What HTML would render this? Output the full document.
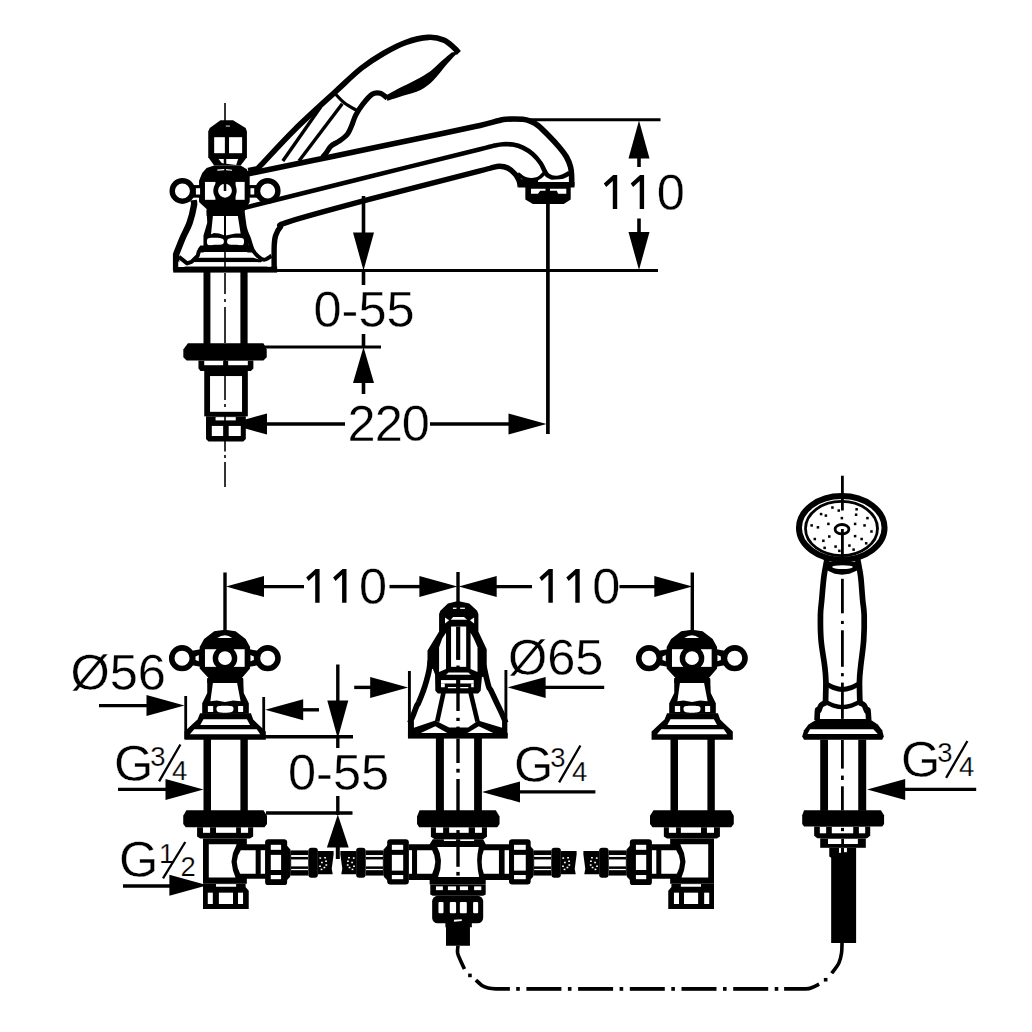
<!DOCTYPE html>
<html><head><meta charset="utf-8"><title>Drawing</title>
<style>
html,body{margin:0;padding:0;background:#fff;}
body{width:1032px;height:1032px;overflow:hidden;}
svg{display:block;}
text{font-family:"Liberation Sans",sans-serif;fill:#000;}
</style></head><body>
<svg width="1032" height="1032" viewBox="0 0 1032 1032">
<rect x="0" y="0" width="1032" height="1032" fill="#fff"/>
<path d="M247.6,174 C261.33,171.15 297.93,163.57 330,156.9 C362.07,150.23 415.00,139.25 440,134 C465.00,128.75 470.33,127.60 480,125.4 C489.67,123.20 493.67,121.83 498,120.8 C502.33,119.77 501.87,119.45 506,119.2 C510.13,118.95 518.63,118.92 522.8,119.3 C526.97,119.68 528.47,120.47 531,121.5 C533.53,122.53 535.00,123.08 538,125.5 C541.00,127.92 545.45,132.38 549,136 C552.55,139.62 556.38,143.70 559.3,147.2 C562.22,150.70 564.63,153.73 566.5,157 C568.37,160.27 569.65,163.63 570.5,166.8 C571.35,169.97 571.42,172.80 571.6,176 C571.78,179.20 571.60,184.33 571.6,186" fill="none" stroke="#000" stroke-width="5.6" stroke-linejoin="round" stroke-linecap="butt"/>
<path d="M243.8,208 C264.83,202.75 330.63,186.30 370,176.5 C409.37,166.70 459.17,154.38 480,149.2 C500.83,144.02 491.17,146.23 495,145.4 C498.83,144.57 500.03,144.33 503,144.2 C505.97,144.07 509.50,144.03 512.8,144.6 C516.10,145.17 519.45,146.00 522.8,147.6 C526.15,149.20 529.95,151.63 532.9,154.2 C535.85,156.77 538.58,160.28 540.5,163 C542.42,165.72 543.15,168.40 544.4,170.5 C545.65,172.60 546.13,174.33 548,175.6 C549.87,176.87 553.08,177.97 555.6,178.1 C558.12,178.23 560.80,177.25 563.1,176.4 C565.40,175.55 568.35,173.57 569.4,173" fill="none" stroke="#000" stroke-width="4.6" stroke-linejoin="round" stroke-linecap="butt"/>
<path d="M274.2,271 C274.20,266.83 273.97,251.88 274.2,246 C274.43,240.12 274.58,238.83 275.6,235.7 C276.62,232.57 278.15,229.52 280.3,227.2 C282.45,224.88 273.55,226.47 288.5,221.8 C303.45,217.13 338.08,207.68 370,199.2 C401.92,190.72 459.67,176.17 480,170.9 C500.33,165.63 488.75,168.38 492,167.6 C495.25,166.82 496.88,166.13 499.5,166.2 C502.12,166.27 505.07,166.65 507.7,168 C510.33,169.35 513.42,172.20 515.3,174.3 C517.18,176.40 518.17,178.48 519,180.6 C519.83,182.72 520.08,185.93 520.3,187" fill="none" stroke="#000" stroke-width="5.4" stroke-linejoin="round" stroke-linecap="butt"/>
<path d="M517.79,173.69 C518.63,174.32 520.94,176.48 522.83,177.47 C524.72,178.46 527.03,179.30 529.13,179.61 C531.23,179.93 533.54,179.82 535.43,179.36 C537.32,178.90 538.90,178.00 540.47,176.84 C542.04,175.69 544.14,173.17 544.87,172.43" fill="none" stroke="#000" stroke-width="3.6" stroke-linejoin="round" stroke-linecap="butt"/>
<path d="M519.05,181.88 L574.48,181.88 L574.48,187.55 L570.7,187.55 L570.7,199.52 L563.77,203.92 L532.91,203.92 L525.35,199.52 L525.35,187.55 L519.05,187.55 Z" fill="#000"/>
<path d="M531.02,188.81 L545.5,188.81 L545.5,190.7 L540.21,190.7 L537.95,193.85 L531.02,193.85 Z" fill="#fff"/>
<path d="M549.91,188.81 L566.29,188.81 L566.29,193.85 L558.1,193.85 L556.84,190.7 L549.91,190.7 Z" fill="#fff"/>
<rect x="519.3" y="179.11" width="18.9" height="3.02" fill="#000"/>
<path d="M538.2,180.62 L568.18,178.73 L568.18,181.88 L538.2,181.88 Z" fill="#fff"/>
<path d="M248.18,170.58 C249.60,170.30 254.53,169.83 256.69,168.88 C258.85,167.93 254.83,171.40 261.14,164.86 C267.45,158.32 282.13,141.91 294.57,129.65 C307.01,117.39 324.66,101.57 335.8,91.32 C346.94,81.07 353.44,74.49 361.43,68.14 C369.42,61.79 376.29,57.52 383.72,53.21 C391.15,48.90 398.58,44.93 406.01,42.29 C413.44,39.65 421.98,37.75 428.29,37.38 C434.61,37.01 439.63,38.35 443.9,40.06 C448.17,41.77 451.43,45.49 453.92,47.64 C456.41,49.79 458.01,52.09 458.83,52.98" fill="none" stroke="#000" stroke-width="5.6" stroke-linejoin="round" stroke-linecap="butt"/>
<path d="M458.66,51.49 C456.73,53.59 451.31,59.26 447.07,64.09 C442.83,68.92 437.63,76.17 433.22,80.47 C428.81,84.77 425.66,87.35 420.62,89.91 C415.58,92.47 408.54,94.00 402.98,95.83 C397.42,97.66 389.86,100.03 387.24,100.87 L386.61,95.08 C388.92,93.82 395.64,90.04 400.47,87.52 C405.30,85.00 410.54,82.73 415.58,79.96 C420.62,77.19 426.50,73.91 430.7,70.89 C434.90,67.87 437.29,64.89 440.78,61.82 C444.26,58.76 449.81,54.05 451.61,52.5 Z" fill="#000"/>
<path d="M387.24,98.1 C386.09,97.30 382.83,93.94 380.31,93.31 C377.79,92.68 375.06,92.47 372.12,94.32 C369.18,96.17 365.40,100.94 362.67,104.4 C359.94,107.87 357.68,111.34 355.75,115.11 C353.82,118.88 352.55,123.76 351.1,127 C349.65,130.24 349.00,132.24 347.07,134.55 C345.14,136.86 342.21,138.92 339.52,140.85 C336.83,142.78 333.15,144.14 330.95,146.14 C328.75,148.13 327.70,150.97 326.29,152.82 C324.88,154.67 323.14,156.50 322.51,157.23" fill="none" stroke="#000" stroke-width="5.2" stroke-linejoin="round" stroke-linecap="butt"/>
<path d="M334.48,92.98 C336.16,94.66 340.77,100.12 344.55,103.06 C348.33,106.00 355.05,109.36 357.15,110.62" fill="none" stroke="#000" stroke-width="3.2" stroke-linejoin="round" stroke-linecap="butt"/>
<path d="M342.29,103.69 L298.95,161.01" fill="none" stroke="#000" stroke-width="3.4" stroke-linejoin="round" stroke-linecap="butt"/>
<path d="M320.62,107.09 L282.83,161.01" fill="none" stroke="#000" stroke-width="3.4" stroke-linejoin="round" stroke-linecap="butt"/>
<line x1="225" y1="103" x2="225" y2="121" stroke="#000" stroke-width="1.6"/>
<path d="M220.47,120.19 L233.06,120.19 L245.66,128 L246.92,131.53 L246.92,157.35 L240.62,165.54 L214.17,165.54 L208.25,157.35 L208.25,131.53 L209.76,128 Z" fill="#000"/>
<rect x="214.17" y="137.2" width="10.7" height="16" fill="#fff"/>
<rect x="229.03" y="137.2" width="13.1" height="16" fill="#fff"/>
<path d="M218.58,158.99 L223.74,158.99 L223.74,163.4 L221.72,163.02 Z" fill="#fff"/>
<path d="M226.26,158.99 L238.1,158.99 L236.21,165.04 L226.26,163.78 Z" fill="#fff"/>
<rect x="225.76" y="125.61" width="4.28" height="0.88" fill="#fff"/>
<path d="M214.17,165.54 L240.62,165.54 L246.92,169.32 L249.69,176.88 L249.69,202.07 L246.92,207.11 L243.77,212.15 L243.14,215.9 L206.61,215.9 L206.61,208.97 L200.31,203.3 L199.05,202.07 L199.05,180.66 L202.2,173.1 L206.61,168.06 Z" fill="#000"/>
<path d="M217.32,169.57 L224.24,169.07 L224.24,170.33 L217.32,170.83 Z" fill="#fff"/>
<path d="M226.13,169.07 L232.05,169.83 L232.05,170.83 L226.13,170.33 Z" fill="#fff"/>
<rect x="204.97" y="181.92" width="10.46" height="17.89" fill="#fff"/>
<rect x="235.58" y="181.92" width="9.07" height="17.89" fill="#fff"/>
<circle cx="225" cy="190.74" r="9.3" fill="#fff" stroke="#000" stroke-width="4.8"/>
<rect x="223.74" y="183.18" width="2.52" height="7.81" fill="#000"/>
<circle cx="182.42" cy="190.99" r="10.2" fill="#fff" stroke="#000" stroke-width="5.4"/>
<circle cx="267.7" cy="190.99" r="10.2" fill="#fff" stroke="#000" stroke-width="5.4"/>
<rect x="193" y="185.07" width="7.31" height="12.59" fill="#000"/>
<rect x="195.9" y="188.22" width="4.16" height="6.3" fill="#fff"/>
<rect x="248.81" y="185.07" width="8.19" height="12.59" fill="#000"/>
<rect x="250.45" y="188.22" width="3.77" height="6.3" fill="#fff"/>
<path d="M250.07,201.44 L258.26,199.55 L258.26,201.07 L250.07,203.08 Z" fill="#fff"/>
<path d="M206.61,210.23 L243.14,210.23 L244.65,224.09 L248.81,236.69 L248.81,246.76 L203.46,246.76 L203.46,235.43 L207.24,222.83 Z" fill="#000"/>
<path d="M212.91,215.9 L223.99,215.9 L223.99,235.17 L219.21,233.41 L214.17,232.91 L211.02,234.17 Z" fill="#fff"/>
<path d="M226.01,215.9 L237.85,215.9 L240.62,233.54 L235.58,233.41 L230.54,234.42 L226.01,235.43 Z" fill="#fff"/>
<path d="M207.87,238.58 C209.13,237.38 212.91,237.63 215.43,237.69 C217.95,237.75 221.72,237.90 222.98,238.95 C224.24,240.00 224.24,243.00 222.98,243.99 C221.72,244.98 217.95,244.72 215.43,244.87 C212.91,245.02 209.13,245.92 207.87,244.87 C206.61,243.82 206.61,239.78 207.87,238.58 Z" fill="#fff"/>
<path d="M228.02,238.95 C229.28,237.90 233.06,237.75 235.58,237.69 C238.10,237.63 241.88,237.38 243.14,238.58 C244.40,239.78 244.40,243.82 243.14,244.87 C241.88,245.92 238.10,245.02 235.58,244.87 C233.06,244.72 229.28,244.98 228.02,243.99 C226.76,243.00 226.76,240.00 228.02,238.95 Z" fill="#fff"/>
<path d="M200.31,245.5 L251.33,245.5 L253.85,249.03 L253.85,252.43 L197.79,252.43 L197.79,249.03 Z" fill="#000"/>
<path d="M204.09,252.05 L246.92,252.05 L250.95,257.72 L200.06,257.72 Z" fill="#fff" stroke="#000" stroke-width="0"/>
<path d="M197.79,257.72 L253.22,257.72 L263.29,260.62 L260.78,262.13 L189.6,262.13 L187.08,263.14 Z" fill="#000"/>
<path d="M193,262.13 L257.63,262.13 L260.78,266.54 L191.49,266.54 Z" fill="#fff"/>
<path d="M193.38,200.18 C193.48,201.02 194.64,201.41 194.01,205.19 C193.38,208.97 191.49,217.37 189.6,222.83 C187.71,228.29 184.92,232.70 182.67,237.95 C180.42,243.20 177.21,251.59 176.12,254.32 L176.12,270.7" fill="none" stroke="#000" stroke-width="6.4" stroke-linejoin="round" stroke-linecap="butt"/>
<rect x="173.23" y="266.54" width="103.92" height="6.05" fill="#000"/>
<path d="M178.9,256.84 L187.08,263.39 L191.49,261.88 L197.79,255.58 L199.05,250.54" fill="none" stroke="#000" stroke-width="4" stroke-linejoin="round" stroke-linecap="butt"/>
<path d="M178.27,261.25 L185.19,266.92 L178.27,266.92 Z" fill="#fff"/>
<path d="M242.52,210.54 C242.94,213.48 243.99,223.56 245.04,228.18 C246.09,232.80 247.56,234.69 248.82,238.26 C250.08,241.83 251.13,246.65 252.6,249.59 C254.07,252.53 255.75,254.21 257.64,255.89 C259.53,257.57 261.62,259.67 263.93,259.67 C266.24,259.67 270.23,256.52 271.49,255.89" fill="none" stroke="#000" stroke-width="4" stroke-linejoin="round" stroke-linecap="butt"/>
<rect x="267.08" y="262.82" width="3.78" height="3.78" fill="#fff"/>
<line x1="225" y1="216" x2="225" y2="235" stroke="#000" stroke-width="1.6"/>
<line x1="225" y1="252" x2="225" y2="258" stroke="#000" stroke-width="1.6"/>
<line x1="225" y1="261" x2="225" y2="268" stroke="#000" stroke-width="1.6"/>
<rect x="203.5" y="272" width="6.9" height="73" fill="#000"/>
<rect x="240.4" y="272" width="7.2" height="73" fill="#000"/>
<line x1="523" y1="119.7" x2="660.5" y2="119.7" stroke="#000" stroke-width="3"/>
<line x1="277" y1="270.6" x2="658" y2="270.6" stroke="#000" stroke-width="3"/>
<line x1="639" y1="150" x2="639" y2="167" stroke="#000" stroke-width="3.6"/>
<line x1="639" y1="218.5" x2="639" y2="240" stroke="#000" stroke-width="3.6"/>
<path d="M639,120.5 L628.5,158.5 L649.5,158.5 Z" fill="#000"/>
<path d="M639,270 L628.5,232 L649.5,232 Z" fill="#000"/>
<path d="M612.8,175 L617.2,175 L617.2,208.9 L612.8,208.9 L612.8,180.9 L606.2,187.1 L603.8,183.5 L613.2,175 Z" fill="#000"/>
<path d="M639.7,175 L644.1,175 L644.1,208.9 L639.7,208.9 L639.7,180.9 L633.1,187.1 L630.7,183.5 L640.1,175 Z" fill="#000"/>
<text x="656.7" y="209.9" font-size="50.5" text-anchor="start" stroke="#fff" stroke-width="0.35">0</text>
<line x1="363.5" y1="196" x2="363.5" y2="235" stroke="#000" stroke-width="3.6"/>
<path d="M363.5,270.5 L353,232.5 L374,232.5 Z" fill="#000"/>
<line x1="363.5" y1="270" x2="363.5" y2="285" stroke="#000" stroke-width="3.6"/>
<text x="313.5" y="327" font-size="50.5" text-anchor="start" stroke="#fff" stroke-width="0.35">0-55</text>
<line x1="363.5" y1="334" x2="363.5" y2="348" stroke="#000" stroke-width="3.6"/>
<path d="M363.5,347 L353,383 L374,383 Z" fill="#000"/>
<line x1="363.5" y1="380" x2="363.5" y2="394" stroke="#000" stroke-width="3.6"/>
<line x1="262" y1="347" x2="381" y2="347" stroke="#000" stroke-width="3"/>
<line x1="547.9" y1="188" x2="547.9" y2="434" stroke="#000" stroke-width="3.7"/>
<line x1="262" y1="424" x2="345" y2="424" stroke="#000" stroke-width="3.4"/>
<line x1="430" y1="424" x2="512" y2="424" stroke="#000" stroke-width="3.4"/>
<path d="M229,424 L267,413.5 L267,434.5 Z" fill="#000"/>
<path d="M546.5,424 L508.5,413.5 L508.5,434.5 Z" fill="#000"/>
<text x="347.5" y="441" font-size="50.5" text-anchor="start" stroke="#fff" stroke-width="0.35" letter-spacing="-0.9">220</text>
<path d="M187.87,343.29 L263.45,343.29 L266.72,349.59 L266.72,357.15 L263.45,360.43 L186.61,360.43 L183.33,357.15 L183.33,349.59 Z" fill="#000"/>
<path d="M198.45,360.43 L253.37,360.43 L253.37,368.49 L250.85,371.01 L200.47,371.01 L198.45,368.49 Z" fill="#000"/>
<rect x="204.24" y="360.93" width="18.9" height="4.28" fill="#fff"/>
<rect x="228.18" y="360.93" width="19.65" height="4.28" fill="#fff"/>
<rect x="204.24" y="371.01" width="43.59" height="45.35" fill="#000"/>
<rect x="210.04" y="376.05" width="31.99" height="35.77" fill="#fff"/>
<path d="M206.01,416.36 L245.81,416.36 L245.81,439.03 L243.29,441.55 L208.53,441.55 L206.01,439.03 Z" fill="#000"/>
<rect x="215.58" y="417.11" width="20.16" height="3.28" fill="#fff"/>
<rect x="211.8" y="425.93" width="11.34" height="10.08" fill="#fff"/>
<rect x="228.68" y="425.93" width="12.1" height="10.08" fill="#fff"/>
<line x1="225" y1="273" x2="225" y2="294" stroke="#000" stroke-width="1.6"/>
<line x1="225" y1="299" x2="225" y2="302" stroke="#000" stroke-width="1.6"/>
<line x1="225" y1="307" x2="225" y2="343" stroke="#000" stroke-width="1.6"/>
<line x1="225" y1="360" x2="225" y2="366" stroke="#000" stroke-width="1.6"/>
<line x1="225" y1="376" x2="225" y2="400" stroke="#000" stroke-width="1.6"/>
<line x1="225" y1="404" x2="225" y2="407" stroke="#000" stroke-width="1.6"/>
<line x1="225" y1="412" x2="225" y2="440" stroke="#000" stroke-width="1.6"/>
<line x1="225" y1="441" x2="225" y2="451.5" stroke="#000" stroke-width="1.6"/>
<line x1="225" y1="455" x2="225" y2="458" stroke="#000" stroke-width="1.6"/>
<line x1="225" y1="462" x2="225" y2="487" stroke="#000" stroke-width="1.6"/>
<path d="M225,629.83 L235.58,631.34 L245.66,638.9 L250.07,647.08 L250.07,668.5 L241.88,677.95 L243.14,679.21 L243.14,682.98 L207.24,682.98 L207.24,679.21 L208.5,677.95 L199.68,668.5 L199.68,647.08 L204.09,638.9 L214.17,631.34 Z" fill="#000"/>
<path d="M217.32,637.89 L221.09,636.12 L225,635.37 L228.65,636.12 L232.05,637.89 Z" fill="#fff"/>
<rect x="204.97" y="649.22" width="11.72" height="17.64" fill="#fff"/>
<rect x="233.69" y="649.22" width="10.96" height="17.64" fill="#fff"/>
<circle cx="225" cy="658.17" r="9.6" fill="#fff" stroke="#000" stroke-width="5.4"/>
<circle cx="182.04" cy="658.17" r="10.3" fill="#fff" stroke="#000" stroke-width="5.6"/>
<circle cx="267.7" cy="658.17" r="10.3" fill="#fff" stroke="#000" stroke-width="5.6"/>
<path d="M192.12,650.86 L200.31,649.22 L200.31,666.86 L192.12,665.35 Z" fill="#000"/>
<path d="M195.52,656.53 L198.8,655.02 L198.8,661.32 L195.52,660.06 Z" fill="#fff"/>
<path d="M249.69,649.22 L257.63,650.86 L257.63,665.35 L249.69,666.86 Z" fill="#000"/>
<path d="M250.45,655.02 L253.85,656.53 L253.85,660.06 L250.45,661.32 Z" fill="#fff"/>
<path d="M207.24,677.95 L243.14,677.95 L243.77,693.06 L248.81,703.14 L248.81,713.85 L202.2,713.85 L202.2,703.14 L207.24,693.06 Z" fill="#000"/>
<path d="M212.91,682.98 L237.09,682.98 L240.62,701.25 L233.06,700.62 L225,701.88 L216.69,700.62 L210.39,701.25 Z" fill="#fff"/>
<rect x="207.87" y="706.04" width="5.29" height="5.92" fill="#fff"/>
<rect x="238.1" y="706.04" width="5.04" height="5.92" fill="#fff"/>
<path d="M216.94,706.92 C217.53,706.12 218.41,706.08 220.47,705.91 C222.53,705.74 227.18,705.74 229.28,705.91 C231.38,706.08 232.43,706.12 233.06,706.92 C233.69,707.72 233.69,709.75 233.06,710.7 C232.43,711.65 231.38,712.28 229.28,712.59 C227.18,712.90 222.53,712.90 220.47,712.59 C218.41,712.28 217.53,711.65 216.94,710.7 C216.35,709.75 216.35,707.72 216.94,706.92 Z" fill="#fff"/>
<path d="M200.06,713.22 L250.95,713.22 L253.22,719.52 L257,723.29 L265.81,731.48 L265.81,739.67 L184.56,739.67 L184.56,731.48 L193.38,723.29 L197.54,719.52 Z" fill="#000"/>
<path d="M203.46,719.26 L246.92,719.26 L250.07,724.93 L200.31,724.93 Z" fill="#fff"/>
<path d="M194.26,729.34 L256.74,729.34 L260.15,734.13 L189.98,734.13 Z" fill="#fff"/>
<rect x="203.5" y="739" width="7.5" height="72" fill="#000"/>
<rect x="240.4" y="739" width="7.4" height="72" fill="#000"/>
<path d="M692,629.83 L702.58,631.34 L712.66,638.9 L717.07,647.08 L717.07,668.5 L708.88,677.95 L710.14,679.21 L710.14,682.98 L674.24,682.98 L674.24,679.21 L675.5,677.95 L666.68,668.5 L666.68,647.08 L671.09,638.9 L681.17,631.34 Z" fill="#000"/>
<path d="M684.32,637.89 L688.09,636.12 L692,635.37 L695.65,636.12 L699.05,637.89 Z" fill="#fff"/>
<rect x="671.97" y="649.22" width="11.72" height="17.64" fill="#fff"/>
<rect x="700.69" y="649.22" width="10.96" height="17.64" fill="#fff"/>
<circle cx="692" cy="658.17" r="9.6" fill="#fff" stroke="#000" stroke-width="5.4"/>
<circle cx="649.04" cy="658.17" r="10.3" fill="#fff" stroke="#000" stroke-width="5.6"/>
<circle cx="734.7" cy="658.17" r="10.3" fill="#fff" stroke="#000" stroke-width="5.6"/>
<path d="M659.12,650.86 L667.31,649.22 L667.31,666.86 L659.12,665.35 Z" fill="#000"/>
<path d="M662.52,656.53 L665.8,655.02 L665.8,661.32 L662.52,660.06 Z" fill="#fff"/>
<path d="M716.69,649.22 L724.63,650.86 L724.63,665.35 L716.69,666.86 Z" fill="#000"/>
<path d="M717.45,655.02 L720.85,656.53 L720.85,660.06 L717.45,661.32 Z" fill="#fff"/>
<path d="M674.24,677.95 L710.14,677.95 L710.77,693.06 L715.81,703.14 L715.81,713.85 L669.2,713.85 L669.2,703.14 L674.24,693.06 Z" fill="#000"/>
<path d="M679.91,682.98 L704.09,682.98 L707.62,701.25 L700.06,700.62 L692,701.88 L683.69,700.62 L677.39,701.25 Z" fill="#fff"/>
<rect x="674.87" y="706.04" width="5.29" height="5.92" fill="#fff"/>
<rect x="705.1" y="706.04" width="5.04" height="5.92" fill="#fff"/>
<path d="M683.94,706.92 C684.53,706.12 685.41,706.08 687.47,705.91 C689.53,705.74 694.18,705.74 696.28,705.91 C698.38,706.08 699.43,706.12 700.06,706.92 C700.69,707.72 700.69,709.75 700.06,710.7 C699.43,711.65 698.38,712.28 696.28,712.59 C694.18,712.90 689.53,712.90 687.47,712.59 C685.41,712.28 684.53,711.65 683.94,710.7 C683.35,709.75 683.35,707.72 683.94,706.92 Z" fill="#fff"/>
<path d="M667.06,713.22 L717.95,713.22 L720.22,719.52 L724,723.29 L732.81,731.48 L732.81,739.67 L651.56,739.67 L651.56,731.48 L660.38,723.29 L664.54,719.52 Z" fill="#000"/>
<path d="M670.46,719.26 L713.92,719.26 L717.07,724.93 L667.31,724.93 Z" fill="#fff"/>
<path d="M661.26,729.34 L723.74,729.34 L727.15,734.13 L656.98,734.13 Z" fill="#fff"/>
<rect x="670.5" y="739" width="7.5" height="72" fill="#000"/>
<rect x="707.4" y="739" width="7.4" height="72" fill="#000"/>
<path d="M186.38,810.16 L263.47,810.16 L267,815.82 L267,824.01 L264.48,827.16 L185.75,827.16 L183.23,824.01 L183.23,815.82 Z" fill="#000"/>
<path d="M197.08,827.16 L253.14,827.16 L253.14,836.61 L249.99,838.5 L200.23,838.5 L197.08,836.61 Z" fill="#000"/>
<path d="M203,827.41 L210.06,827.41 L210.06,832.83 L203,832.83 Z" fill="#fff"/>
<path d="M215.98,827.41 L236.13,827.41 L236.13,832.83 L215.98,832.83 Z" fill="#fff"/>
<path d="M240.92,827.41 L248.1,827.41 L248.1,832.83 L240.92,832.83 Z" fill="#fff"/>
<path d="M203,838.5 L246.84,838.5 L246.84,883.85 L203,883.85 Z" fill="#000"/>
<path d="M208.8,844.17 L236.76,844.17 L232.98,852.98 L231.47,861.8 L232.98,870.62 L235.5,877.55 L208.8,877.55 Z" fill="#fff"/>
<path d="M236.76,844.17 L265.74,844.17 L265.74,878.81 L236.76,878.81 Z" fill="#000"/>
<path d="M240.79,850.21 L255.66,850.21 L255.66,873.77 L240.16,873.77 L237.77,868.1 L236.76,861.8 L238.02,855.5 Z" fill="#fff"/>
<path d="M260.7,850.21 L265.36,850.21 L265.36,873.77 L260.7,873.77 Z" fill="#fff"/>
<rect x="265.11" y="839.13" width="22.04" height="45.98" rx="3.2" fill="#000"/>
<path d="M270.78,844.8 L281.1,844.8 L281.1,849.84 L270.78,849.84 Z" fill="#fff"/>
<path d="M270.78,854.87 L281.1,854.87 L281.1,869.99 L270.78,869.99 Z" fill="#fff"/>
<path d="M270.78,875.03 L281.1,875.03 L281.1,879.19 L270.78,879.19 Z" fill="#fff"/>
<path d="M203,883.85 L245.58,883.85 L245.58,887 L248.73,890.78 L248.73,909.04 L203,909.04 Z" fill="#000"/>
<path d="M215.98,884.1 L236.13,884.1 L236.13,886.74 L215.98,886.74 Z" fill="#fff"/>
<path d="M207.79,892.66 L212.83,892.66 L212.83,904 L207.79,904 Z" fill="#fff"/>
<path d="M218.88,892.66 L232.98,892.66 L232.98,904 L218.88,904 Z" fill="#fff"/>
<path d="M238.02,892.66 L243.06,892.66 L243.06,904 L238.02,904 Z" fill="#fff"/>
<path d="M730.62,810.16 L653.53,810.16 L650,815.82 L650,824.01 L652.52,827.16 L731.25,827.16 L733.77,824.01 L733.77,815.82 Z" fill="#000"/>
<path d="M719.92,827.16 L663.86,827.16 L663.86,836.61 L667.01,838.5 L716.77,838.5 L719.92,836.61 Z" fill="#000"/>
<path d="M714,827.41 L706.94,827.41 L706.94,832.83 L714,832.83 Z" fill="#fff"/>
<path d="M701.02,827.41 L680.87,827.41 L680.87,832.83 L701.02,832.83 Z" fill="#fff"/>
<path d="M676.08,827.41 L668.9,827.41 L668.9,832.83 L676.08,832.83 Z" fill="#fff"/>
<path d="M714,838.5 L670.16,838.5 L670.16,883.85 L714,883.85 Z" fill="#000"/>
<path d="M708.2,844.17 L680.24,844.17 L684.02,852.98 L685.53,861.8 L684.02,870.62 L681.5,877.55 L708.2,877.55 Z" fill="#fff"/>
<path d="M680.24,844.17 L651.26,844.17 L651.26,878.81 L680.24,878.81 Z" fill="#000"/>
<path d="M676.21,850.21 L661.34,850.21 L661.34,873.77 L676.84,873.77 L679.23,868.1 L680.24,861.8 L678.98,855.5 Z" fill="#fff"/>
<path d="M656.3,850.21 L651.64,850.21 L651.64,873.77 L656.3,873.77 Z" fill="#fff"/>
<rect x="629.85" y="839.13" width="22.04" height="45.98" rx="3.2" fill="#000"/>
<path d="M646.22,844.8 L635.9,844.8 L635.9,849.84 L646.22,849.84 Z" fill="#fff"/>
<path d="M646.22,854.87 L635.9,854.87 L635.9,869.99 L646.22,869.99 Z" fill="#fff"/>
<path d="M646.22,875.03 L635.9,875.03 L635.9,879.19 L646.22,879.19 Z" fill="#fff"/>
<path d="M714,883.85 L671.42,883.85 L671.42,887 L668.27,890.78 L668.27,909.04 L714,909.04 Z" fill="#000"/>
<path d="M701.02,884.1 L680.87,884.1 L680.87,886.74 L701.02,886.74 Z" fill="#fff"/>
<path d="M709.21,892.66 L704.17,892.66 L704.17,904 L709.21,904 Z" fill="#fff"/>
<path d="M698.12,892.66 L684.02,892.66 L684.02,904 L698.12,904 Z" fill="#fff"/>
<path d="M678.98,892.66 L673.94,892.66 L673.94,904 L678.98,904 Z" fill="#fff"/>
<path d="M285.12,843.46 L290.16,849.13 L290.16,876.84 L285.12,881.88 Z" fill="#000"/>
<path d="M290.16,850.39 L308.42,850.39 L308.42,875.58 L290.16,875.58 Z" fill="#000"/>
<path d="M291.16,855.05 L308.04,855.05 L308.04,856.94 L291.16,856.94 Z" fill="#fff"/>
<path d="M291.16,859.46 L308.04,859.46 L308.04,866.39 L291.16,866.39 Z" fill="#fff"/>
<path d="M291.16,868.91 L308.04,868.91 L308.04,870.16 L291.16,870.16 Z" fill="#fff"/>
<rect x="308.42" y="847.87" width="9.45" height="29.98" rx="3" fill="#000"/>
<path d="M317.87,851.02 L333.61,851.02 L333.61,854.42 L331.72,868.65 L332.73,874.32 L317.87,874.32 Z" fill="#000"/>
<path d="M319.38,857.32 L321.14,857.32 L321.14,858.83 L319.38,858.83 Z" fill="#fff"/>
<path d="M324.17,856.94 L325.93,856.94 L325.93,858.45 L324.17,858.45 Z" fill="#fff"/>
<path d="M321.02,861.72 L322.78,861.72 L322.78,863.24 L321.02,863.24 Z" fill="#fff"/>
<path d="M325.17,860.47 L326.94,860.47 L326.94,861.98 L325.17,861.98 Z" fill="#fff"/>
<path d="M319.13,865.5 L320.89,865.5 L320.89,867.02 L319.13,867.02 Z" fill="#fff"/>
<path d="M323.54,866.76 L325.3,866.76 L325.3,868.28 L323.54,868.28 Z" fill="#fff"/>
<path d="M320.64,868.65 L322.4,868.65 L322.4,870.16 L320.64,870.16 Z" fill="#fff"/>
<path d="M325.43,864.24 L327.19,864.24 L327.19,865.76 L325.43,865.76 Z" fill="#fff"/>
<path d="M388.88,843.46 L383.84,849.13 L383.84,876.84 L388.88,881.88 Z" fill="#000"/>
<path d="M383.84,850.39 L365.58,850.39 L365.58,875.58 L383.84,875.58 Z" fill="#000"/>
<path d="M382.84,855.05 L365.96,855.05 L365.96,856.94 L382.84,856.94 Z" fill="#fff"/>
<path d="M382.84,859.46 L365.96,859.46 L365.96,866.39 L382.84,866.39 Z" fill="#fff"/>
<path d="M382.84,868.91 L365.96,868.91 L365.96,870.16 L382.84,870.16 Z" fill="#fff"/>
<rect x="356.13" y="847.87" width="9.45" height="29.98" rx="3" fill="#000"/>
<path d="M356.13,851.02 L340.39,851.02 L340.39,854.42 L342.28,868.65 L341.27,874.32 L356.13,874.32 Z" fill="#000"/>
<path d="M354.62,857.32 L352.86,857.32 L352.86,858.83 L354.62,858.83 Z" fill="#fff"/>
<path d="M349.83,856.94 L348.07,856.94 L348.07,858.45 L349.83,858.45 Z" fill="#fff"/>
<path d="M352.98,861.72 L351.22,861.72 L351.22,863.24 L352.98,863.24 Z" fill="#fff"/>
<path d="M348.83,860.47 L347.06,860.47 L347.06,861.98 L348.83,861.98 Z" fill="#fff"/>
<path d="M354.87,865.5 L353.11,865.5 L353.11,867.02 L354.87,867.02 Z" fill="#fff"/>
<path d="M350.46,866.76 L348.7,866.76 L348.7,868.28 L350.46,868.28 Z" fill="#fff"/>
<path d="M353.36,868.65 L351.6,868.65 L351.6,870.16 L353.36,870.16 Z" fill="#fff"/>
<path d="M348.57,864.24 L346.81,864.24 L346.81,865.76 L348.57,865.76 Z" fill="#fff"/>
<path d="M631.88,843.46 L626.84,849.13 L626.84,876.84 L631.88,881.88 Z" fill="#000"/>
<path d="M626.84,850.39 L608.58,850.39 L608.58,875.58 L626.84,875.58 Z" fill="#000"/>
<path d="M625.84,855.05 L608.96,855.05 L608.96,856.94 L625.84,856.94 Z" fill="#fff"/>
<path d="M625.84,859.46 L608.96,859.46 L608.96,866.39 L625.84,866.39 Z" fill="#fff"/>
<path d="M625.84,868.91 L608.96,868.91 L608.96,870.16 L625.84,870.16 Z" fill="#fff"/>
<rect x="599.13" y="847.87" width="9.45" height="29.98" rx="3" fill="#000"/>
<path d="M599.13,851.02 L583.39,851.02 L583.39,854.42 L585.28,868.65 L584.27,874.32 L599.13,874.32 Z" fill="#000"/>
<path d="M597.62,857.32 L595.86,857.32 L595.86,858.83 L597.62,858.83 Z" fill="#fff"/>
<path d="M592.83,856.94 L591.07,856.94 L591.07,858.45 L592.83,858.45 Z" fill="#fff"/>
<path d="M595.98,861.72 L594.22,861.72 L594.22,863.24 L595.98,863.24 Z" fill="#fff"/>
<path d="M591.83,860.47 L590.06,860.47 L590.06,861.98 L591.83,861.98 Z" fill="#fff"/>
<path d="M597.87,865.5 L596.11,865.5 L596.11,867.02 L597.87,867.02 Z" fill="#fff"/>
<path d="M593.46,866.76 L591.7,866.76 L591.7,868.28 L593.46,868.28 Z" fill="#fff"/>
<path d="M596.36,868.65 L594.6,868.65 L594.6,870.16 L596.36,870.16 Z" fill="#fff"/>
<path d="M591.57,864.24 L589.81,864.24 L589.81,865.76 L591.57,865.76 Z" fill="#fff"/>
<path d="M528.12,843.46 L533.16,849.13 L533.16,876.84 L528.12,881.88 Z" fill="#000"/>
<path d="M533.16,850.39 L551.42,850.39 L551.42,875.58 L533.16,875.58 Z" fill="#000"/>
<path d="M534.16,855.05 L551.04,855.05 L551.04,856.94 L534.16,856.94 Z" fill="#fff"/>
<path d="M534.16,859.46 L551.04,859.46 L551.04,866.39 L534.16,866.39 Z" fill="#fff"/>
<path d="M534.16,868.91 L551.04,868.91 L551.04,870.16 L534.16,870.16 Z" fill="#fff"/>
<rect x="551.42" y="847.87" width="9.45" height="29.98" rx="3" fill="#000"/>
<path d="M560.87,851.02 L576.61,851.02 L576.61,854.42 L574.72,868.65 L575.73,874.32 L560.87,874.32 Z" fill="#000"/>
<path d="M562.38,857.32 L564.14,857.32 L564.14,858.83 L562.38,858.83 Z" fill="#fff"/>
<path d="M567.17,856.94 L568.93,856.94 L568.93,858.45 L567.17,858.45 Z" fill="#fff"/>
<path d="M564.02,861.72 L565.78,861.72 L565.78,863.24 L564.02,863.24 Z" fill="#fff"/>
<path d="M568.17,860.47 L569.94,860.47 L569.94,861.98 L568.17,861.98 Z" fill="#fff"/>
<path d="M562.13,865.5 L563.89,865.5 L563.89,867.02 L562.13,867.02 Z" fill="#fff"/>
<path d="M566.54,866.76 L568.3,866.76 L568.3,868.28 L566.54,868.28 Z" fill="#fff"/>
<path d="M563.64,868.65 L565.4,868.65 L565.4,870.16 L563.64,870.16 Z" fill="#fff"/>
<path d="M568.43,864.24 L570.19,864.24 L570.19,865.76 L568.43,865.76 Z" fill="#fff"/>
<path d="M430.27,660.54 C430.06,662.22 429.64,667.26 429.01,670.62 C428.38,673.98 427.44,677.34 426.49,680.7 C425.55,684.06 424.70,687.00 423.34,690.78 C421.97,694.56 419.35,700.97 418.3,703.37 C417.25,705.77 417.98,703.00 417.04,705.19 C416.10,707.38 413.84,713.59 412.64,716.53 C411.44,719.47 410.32,721.78 409.86,722.83" fill="none" stroke="#000" stroke-width="5.6" stroke-linejoin="round" stroke-linecap="butt"/>
<path d="M483.81,665.58 C484.17,667.26 485.11,672.09 485.95,675.66 C486.79,679.23 488.05,684.60 488.85,687 C489.65,689.40 489.59,687.78 490.74,690.08 C491.89,692.38 493.89,696.79 495.78,700.78 C497.67,704.77 500.39,710.34 502.07,714.01 C503.75,717.68 505.22,721.36 505.85,722.83" fill="none" stroke="#000" stroke-width="5.6" stroke-linejoin="round" stroke-linecap="butt"/>
<path d="M457.98,601.09 L469.32,603.6 L477.13,610.78 L478.39,613.93 L478.39,631.57 L486.71,649.21 L486.71,676.29 L481.92,676.92 L480.66,690.78 L478.14,693.55 L437.83,693.55 L435.31,690.78 L435.06,674.4 L432.79,668.73 L427.5,671.25 L427.5,650.47 L439.09,631.57 L439.09,613.93 L440.35,610.78 L447.91,603.6 Z" fill="#000"/>
<rect x="452.95" y="607.64" width="3.52" height="1.26" fill="#fff"/>
<rect x="460.13" y="607.64" width="4.78" height="1.26" fill="#fff"/>
<path d="M453.2,617.08 L464.03,617.08 L467.05,619.73 L450.68,619.73 Z" fill="#fff"/>
<path d="M445.01,617.46 L449.17,620.23 L445.01,623.38 Z" fill="#fff"/>
<path d="M474.11,617.46 L469.95,620.23 L474.11,623.38 Z" fill="#fff"/>
<path d="M446.02,632.83 L446.02,669.11 L439.09,671.88 L439.09,647.32 L442.24,638.5 Z" fill="#fff"/>
<path d="M470.58,632.83 L473.73,638.5 L477.51,647.32 L477.51,671.88 L470.58,669.11 Z" fill="#fff"/>
<path d="M451.06,626.53 L466.17,626.53 L466.17,666.84 L451.06,666.84 Z" fill="#fff"/>
<rect x="456.09" y="626.53" width="4.16" height="33.38" fill="#000"/>
<rect x="456.35" y="665.58" width="3.27" height="1.76" fill="#000"/>
<path d="M448.54,672.51 L468.31,672.51 L470.83,674.65 L446.02,674.65 Z" fill="#fff"/>
<rect x="440.98" y="680.07" width="15.11" height="3.4" fill="#fff"/>
<rect x="460.25" y="680.07" width="13.48" height="3.4" fill="#fff"/>
<rect x="440.98" y="683.47" width="3.78" height="3.78" fill="#fff"/>
<rect x="471.21" y="683.47" width="2.52" height="3.78" fill="#fff"/>
<rect x="447.91" y="687" width="8.18" height="1.26" fill="#fff"/>
<rect x="460.25" y="687" width="8.06" height="1.26" fill="#fff"/>
<path d="M443.5,692.6 L437.2,721.57" fill="none" stroke="#000" stroke-width="4.6" stroke-linejoin="round" stroke-linecap="butt"/>
<path d="M470.58,692.6 L477.51,721.57" fill="none" stroke="#000" stroke-width="4.6" stroke-linejoin="round" stroke-linecap="butt"/>
<path d="M410.12,717.79 L413.9,721.57 L413.9,727.87 L435.31,720.56 L449.17,727.62 L468.06,727.62 L478.14,720.56 L502.07,727.87 L502.07,721.57 L505.85,717.79 L505.85,733.54 L410.12,733.54 Z" fill="#000"/>
<rect x="407.97" y="732.91" width="99.77" height="5.67" fill="#000"/>
<path d="M420.82,732.91 L435.31,726.23 L447.28,732.91 Z" fill="#fff"/>
<path d="M467.43,732.91 L478.77,726.23 L493.26,732.91 Z" fill="#fff"/>
<line x1="409.4" y1="671" x2="409.4" y2="737" stroke="#000" stroke-width="2.9"/>
<line x1="505.9" y1="670" x2="505.9" y2="737" stroke="#000" stroke-width="2.9"/>
<rect x="435.9" y="738" width="8" height="73" fill="#000"/>
<rect x="474.1" y="738" width="7.8" height="73" fill="#000"/>
<line x1="458" y1="572" x2="458" y2="602" stroke="#000" stroke-width="3.4"/>
<line x1="458" y1="692.6" x2="458" y2="711" stroke="#000" stroke-width="3.4"/>
<line x1="458" y1="717.8" x2="458" y2="721" stroke="#000" stroke-width="3.4"/>
<line x1="458" y1="726.6" x2="458" y2="733" stroke="#000" stroke-width="3.4"/>
<line x1="458" y1="738.6" x2="458" y2="763" stroke="#000" stroke-width="3.4"/>
<line x1="458" y1="768.8" x2="458" y2="772.6" stroke="#000" stroke-width="3.4"/>
<line x1="458" y1="779" x2="458" y2="811" stroke="#000" stroke-width="3.4"/>
<path d="M419.56,810.16 L495.78,810.16 L499.55,816.45 L499.55,824.01 L497.29,827.16 L419.19,827.16 L417.04,824.01 L417.04,816.45 Z" fill="#000"/>
<path d="M430.9,827.16 L486.96,827.16 L486.96,836.86 L483.18,839.13 L434.68,839.13 L430.9,836.86 Z" fill="#000"/>
<rect x="435.94" y="827.41" width="7.18" height="5.42" fill="#fff"/>
<rect x="449.17" y="827.41" width="19.52" height="5.42" fill="#fff"/>
<rect x="474.99" y="827.41" width="6.93" height="5.42" fill="#fff"/>
<rect x="456.35" y="830.06" width="3.27" height="3.02" fill="#000"/>
<path d="M432.79,839.13 L483.18,839.13 L485.7,844.17 L509,844.17 L509,880.07 L485.7,880.07 L485.7,884.48 L429.64,884.48 L429.64,880.07 L408.86,880.07 L408.86,844.17 L429.64,844.17 Z" fill="#000"/>
<rect x="443.88" y="839.38" width="12.21" height="1.64" fill="#fff"/>
<rect x="460.25" y="839.38" width="13.86" height="1.64" fill="#fff"/>
<path d="M437.2,846.94 L478.77,846.94 L477.51,854.24 L477.13,860.54 L477.76,869.36 L479.15,876.92 L438.08,876.92 L440.35,869.36 L440.98,860.54 L439.72,852.98 Z" fill="#fff"/>
<path d="M417.04,850.21 L432.16,850.21 L434.3,855.5 L435.31,861.8 L434.3,868.1 L432.16,873.77 L417.04,873.77 Z" fill="#fff"/>
<rect x="408.86" y="850.21" width="3.15" height="23.56" fill="#fff"/>
<path d="M483.81,850.21 L498.92,850.21 L498.92,873.77 L483.81,873.77 L482.17,868.1 L481.67,861.8 L482.17,855.5 Z" fill="#fff"/>
<rect x="504.59" y="850.21" width="4.41" height="23.56" fill="#fff"/>
<rect x="387.19" y="839.13" width="21.67" height="45.35" rx="3.2" fill="#000"/>
<rect x="391.85" y="844.8" width="11.34" height="5.04" fill="#fff"/>
<rect x="391.85" y="854.87" width="11.34" height="15.75" fill="#fff"/>
<rect x="391.85" y="875.03" width="11.34" height="4.16" fill="#fff"/>
<rect x="509" y="839.13" width="21.67" height="45.35" rx="3.2" fill="#000"/>
<rect x="514.04" y="844.8" width="11.72" height="5.04" fill="#fff"/>
<rect x="514.04" y="854.87" width="11.72" height="15.75" fill="#fff"/>
<rect x="514.04" y="875.03" width="11.72" height="4.16" fill="#fff"/>
<path d="M430.27,884.48 L485.7,884.48 L485.7,894.55 L483.18,895.81 L432.79,895.81 L430.27,894.55 Z" fill="#000"/>
<rect x="435.94" y="886.37" width="6.93" height="3.78" fill="#fff"/>
<rect x="447.91" y="886.37" width="8.18" height="3.78" fill="#fff"/>
<rect x="459.87" y="886.37" width="8.19" height="3.78" fill="#fff"/>
<rect x="474.11" y="886.37" width="7.18" height="3.78" fill="#fff"/>
<rect x="432.16" y="895.81" width="51.02" height="27.47" rx="5.5" fill="#000"/>
<rect x="438.46" y="901.97" width="5.04" height="11.33" rx="1" fill="#fff"/>
<rect x="449.8" y="901.97" width="6.29" height="11.33" rx="1" fill="#fff"/>
<rect x="459.87" y="901.97" width="6.93" height="11.33" rx="1" fill="#fff"/>
<rect x="473.1" y="901.97" width="5.04" height="11.33" rx="1" fill="#fff"/>
<path d="M445.39,918.34 L471.84,918.34 L471.84,927.16 L469.95,927.16 L469.95,945.68 L446.02,945.68 L446.02,927.16 L445.39,927.16 Z" fill="#000"/>
<path d="M453.95,919.73 L461.76,919.22 L461.76,920.99 L453.95,921.74 Z" fill="#fff"/>
<line x1="458" y1="846.9" x2="458" y2="866.8" stroke="#000" stroke-width="3.4"/>
<line x1="458" y1="871.9" x2="458" y2="875.6" stroke="#000" stroke-width="3.4"/>
<ellipse cx="841.75" cy="527.82" rx="42.8" ry="31.8" fill="#fff" stroke="#000" stroke-width="6"/>
<ellipse cx="841.5" cy="528.45" rx="36" ry="27.1" fill="none" stroke="#000" stroke-width="2.8"/>
<ellipse cx="842" cy="529.21" rx="6.9" ry="4.7" fill="none" stroke="#000" stroke-width="2.8"/>
<rect x="831.17" y="506.28" width="2.52" height="2.52" fill="#000"/>
<rect x="819.83" y="512.83" width="2.52" height="2.52" fill="#000"/>
<rect x="824.62" y="514.34" width="2.52" height="2.52" fill="#000"/>
<rect x="810.38" y="524.17" width="2.52" height="2.52" fill="#000"/>
<rect x="816.68" y="526.06" width="2.52" height="2.52" fill="#000"/>
<rect x="827.14" y="522.66" width="2.52" height="2.51" fill="#000"/>
<rect x="813.53" y="537.77" width="2.52" height="2.52" fill="#000"/>
<rect x="822.1" y="539.53" width="2.52" height="2.52" fill="#000"/>
<rect x="828.02" y="535.25" width="2.52" height="2.52" fill="#000"/>
<rect x="823.36" y="546.59" width="2.52" height="2.52" fill="#000"/>
<rect x="834.32" y="545.33" width="2.52" height="2.52" fill="#000"/>
<rect x="837.47" y="509.3" width="2.51" height="2.52" fill="#000"/>
<rect x="840.61" y="516.86" width="2.52" height="2.52" fill="#000"/>
<rect x="855.35" y="508.04" width="2.52" height="2.52" fill="#000"/>
<rect x="854.85" y="513.46" width="2.52" height="2.52" fill="#000"/>
<rect x="866.19" y="516.86" width="2.52" height="2.52" fill="#000"/>
<rect x="853.84" y="522.66" width="2.52" height="2.51" fill="#000"/>
<rect x="863.29" y="524.17" width="2.52" height="2.52" fill="#000"/>
<rect x="870.22" y="530.21" width="2.52" height="2.52" fill="#000"/>
<rect x="853.84" y="534.87" width="2.52" height="2.52" fill="#000"/>
<rect x="860.39" y="537.77" width="2.52" height="2.52" fill="#000"/>
<rect x="864.93" y="542.05" width="2.52" height="2.52" fill="#000"/>
<rect x="848.17" y="544.32" width="2.52" height="2.52" fill="#000"/>
<rect x="852.33" y="548.35" width="2.52" height="2.52" fill="#000"/>
<rect x="838.09" y="549.61" width="2.52" height="2.52" fill="#000"/>
<line x1="842.4" y1="475.7" x2="842.4" y2="510.5" stroke="#000" stroke-width="2.8"/>
<line x1="842.4" y1="529" x2="842.4" y2="558" stroke="#000" stroke-width="2.8"/>
<path d="M827.39,558.18 C827.22,558.91 826.97,559.44 826.38,562.59 C825.79,565.74 824.64,570.84 823.86,577.07 C823.08,583.31 822.29,593.65 821.72,600 C821.15,606.35 820.57,608.46 820.46,615.19 C820.36,621.92 820.40,631.99 821.09,640.39 C821.78,648.79 823.82,658.86 824.62,665.58 C825.42,672.30 825.73,674.40 825.88,680.7 C826.03,687.00 825.56,699.59 825.5,703.37" fill="none" stroke="#000" stroke-width="5.7" stroke-linejoin="round" stroke-linecap="butt"/>
<path d="M857.37,558.18 C857.52,558.91 857.68,559.44 858.25,562.59 C858.82,565.74 860.03,570.84 860.77,577.07 C861.50,583.31 862.09,593.65 862.66,600 C863.23,606.35 864.00,608.46 864.17,615.19 C864.34,621.92 864.24,631.99 863.67,640.39 C863.10,648.79 861.46,658.86 860.77,665.58 C860.08,672.30 859.66,674.40 859.51,680.7 C859.36,687.00 859.83,699.59 859.89,703.37" fill="none" stroke="#000" stroke-width="5.7" stroke-linejoin="round" stroke-linecap="butt"/>
<path d="M826.38,561.71 L858.25,561.71 L857.12,570.52 L849.43,573.8 L842,574.81 L834.69,573.8 L827.39,570.52 Z" fill="#000"/>
<ellipse cx="842.5" cy="567.12" rx="10.4" ry="1.9" fill="#fff"/>
<path d="M825.5,683.47 C826.87,684.16 830.90,686.62 833.69,687.63 C836.48,688.64 839.31,689.52 842.25,689.52 C845.19,689.52 848.44,688.64 851.32,687.63 C854.20,686.62 858.14,684.16 859.51,683.47" fill="none" stroke="#000" stroke-width="4.8" stroke-linejoin="round" stroke-linecap="butt"/>
<path d="M825.5,702.11 C826.87,702.70 830.90,704.80 833.69,705.64 C836.48,706.48 839.31,707.15 842.25,707.15 C845.19,707.15 848.44,706.48 851.32,705.64 C854.20,704.80 858.14,702.70 859.51,702.11" fill="none" stroke="#000" stroke-width="4.4" stroke-linejoin="round" stroke-linecap="butt"/>
<path d="M825.5,702.74 C824.76,703.16 822.25,703.89 821.09,705.26 C819.94,706.62 819.16,710.13 818.57,710.93 C817.98,711.73 817.81,708.54 817.56,710.08 C817.31,711.62 817.14,718.48 817.06,720.16" fill="none" stroke="#000" stroke-width="5.6" stroke-linejoin="round" stroke-linecap="butt"/>
<path d="M859.89,702.74 C860.60,703.16 863.04,703.89 864.17,705.26 C865.30,706.62 866.06,710.13 866.69,710.93 C867.32,711.73 867.61,708.54 867.95,710.08 C868.29,711.62 868.58,718.48 868.71,720.16" fill="none" stroke="#000" stroke-width="5.6" stroke-linejoin="round" stroke-linecap="butt"/>
<path d="M817.31,718.9 L869.59,718.9 L877.78,724.56 L882.18,730.23 L883.82,736.53 L882.18,739.68 L804.08,739.68 L802.19,736.53 L804.08,730.23 L808.49,724.56 Z" fill="#000"/>
<path d="M810,729.22 L873.37,729.22 L877.78,734.01 L807.48,734.01 Z" fill="#fff"/>
<rect x="820.21" y="739.68" width="7.81" height="71.17" fill="#000"/>
<rect x="858.25" y="739.68" width="7.94" height="71.17" fill="#000"/>
<path d="M804.08,810.22 L880.92,810.22 L884.07,815.26 L884.07,824.08 L882.18,826.6 L804.08,826.6 L802.19,824.08 L802.19,815.26 Z" fill="#000"/>
<path d="M814.16,826.38 L870.22,826.38 L870.22,835.82 L867.07,838.34 L817.31,838.34 L814.16,835.82 Z" fill="#000"/>
<rect x="819.83" y="827.01" width="6.3" height="6.29" fill="#fff"/>
<rect x="831.8" y="827.01" width="21.41" height="6.29" fill="#fff"/>
<rect x="858.88" y="827.01" width="6.3" height="6.29" fill="#fff"/>
<rect x="840.99" y="827.89" width="3.03" height="3.27" fill="#000"/>
<rect x="820.21" y="838.34" width="45.6" height="9.45" fill="#000"/>
<rect x="828.02" y="838.97" width="13.22" height="5.04" fill="#fff"/>
<rect x="844.02" y="838.97" width="13.85" height="5.04" fill="#fff"/>
<path d="M829.28,847.79 L856.11,847.79 L856.11,942.9 L831.17,942.9 L831.17,857.87 L829.28,856.61 Z" fill="#000"/>
<rect x="838.98" y="848.04" width="2.01" height="4.79" fill="#fff"/>
<rect x="844.02" y="848.04" width="2.89" height="4.16" fill="#fff"/>
<line x1="842.4" y1="578.8" x2="842.4" y2="613.3" stroke="#000" stroke-width="2.8"/>
<line x1="842.4" y1="620.9" x2="842.4" y2="624" stroke="#000" stroke-width="2.8"/>
<line x1="842.4" y1="630.3" x2="842.4" y2="666.8" stroke="#000" stroke-width="2.8"/>
<line x1="842.4" y1="673.1" x2="842.4" y2="676.3" stroke="#000" stroke-width="2.8"/>
<line x1="842.4" y1="682.6" x2="842.4" y2="718.9" stroke="#000" stroke-width="2.8"/>
<line x1="842.4" y1="740" x2="842.4" y2="768.6" stroke="#000" stroke-width="2.8"/>
<line x1="842.4" y1="775.6" x2="842.4" y2="780" stroke="#000" stroke-width="2.8"/>
<line x1="842.4" y1="786.3" x2="842.4" y2="810.5" stroke="#000" stroke-width="2.8"/>
<path d="M457.98,945.68 C457.92,946.90 457.19,950.50 457.61,952.98 C458.03,955.46 459.35,957.85 460.5,960.54 C461.65,963.23 463.86,967.68 464.53,969.11" fill="none" stroke="#000" stroke-width="3.6" stroke-linejoin="round" stroke-linecap="butt"/>
<rect x="468.15" y="973.61" width="3.6" height="3.6" fill="#000"/>
<path d="M475.87,980.07 C476.88,980.97 479.86,984.16 481.92,985.48 C483.98,986.80 485.91,987.43 488.22,988 C490.53,988.57 492.17,988.74 495.78,988.89 C499.39,989.04 507.53,988.89 509.88,988.89" fill="none" stroke="#000" stroke-width="3.8" stroke-linejoin="round" stroke-linecap="butt"/>
<rect x="516.2" y="987" width="3.6" height="3.8" fill="#000"/>
<rect x="526.4" y="987" width="35" height="3.8" fill="#000"/>
<rect x="567.9" y="987" width="3.6" height="3.8" fill="#000"/>
<rect x="578.1" y="987" width="35" height="3.8" fill="#000"/>
<rect x="619.6" y="987" width="3.6" height="3.8" fill="#000"/>
<rect x="629.8" y="987" width="35" height="3.8" fill="#000"/>
<rect x="671.3" y="987" width="3.6" height="3.8" fill="#000"/>
<rect x="681.5" y="987" width="35" height="3.8" fill="#000"/>
<rect x="723" y="987" width="3.6" height="3.8" fill="#000"/>
<rect x="733.2" y="987" width="35" height="3.8" fill="#000"/>
<rect x="774.7" y="987" width="3.6" height="3.8" fill="#000"/>
<path d="M784.09,988.81 C787.66,988.81 800.84,989.02 805.5,988.81 C810.16,988.60 809.78,988.33 812.05,987.55 C814.32,986.77 817.93,984.72 819.11,984.15" fill="none" stroke="#000" stroke-width="3.8" stroke-linejoin="round" stroke-linecap="butt"/>
<rect x="823.86" y="977.94" width="3.6" height="3.6" fill="#000"/>
<path d="M831.71,973.31 C832.91,971.59 837.25,966.38 838.89,962.98 C840.53,959.58 841.01,956.27 841.53,952.91 C842.05,949.55 841.95,944.51 842.03,942.83" fill="none" stroke="#000" stroke-width="3.6" stroke-linejoin="round" stroke-linecap="butt"/>
<line x1="225" y1="572.5" x2="225" y2="634" stroke="#000" stroke-width="3.4"/>
<line x1="692.3" y1="572.5" x2="692.3" y2="634" stroke="#000" stroke-width="3.4"/>
<path d="M226,586.6 L264,576.1 L264,597.1 Z" fill="#000"/>
<line x1="263" y1="586.6" x2="304" y2="586.6" stroke="#000" stroke-width="3.4"/>
<path d="M315.2,568.9 L319.6,568.9 L319.6,602.8 L315.2,602.8 L315.2,574.8 L308.6,581 L306.2,577.4 L315.6,568.9 Z" fill="#000"/>
<path d="M342.1,568.9 L346.5,568.9 L346.5,602.8 L342.1,602.8 L342.1,574.8 L335.5,581 L333.1,577.4 L342.5,568.9 Z" fill="#000"/>
<text x="359.1" y="603.8" font-size="50.5" text-anchor="start" stroke="#fff" stroke-width="0.35">0</text>
<line x1="389.5" y1="586.6" x2="420" y2="586.6" stroke="#000" stroke-width="3.4"/>
<path d="M457.4,586.6 L419.4,576.1 L419.4,597.1 Z" fill="#000"/>
<path d="M458.7,586.6 L496.7,576.1 L496.7,597.1 Z" fill="#000"/>
<line x1="496" y1="586.6" x2="532" y2="586.6" stroke="#000" stroke-width="3.4"/>
<path d="M548.4,568.9 L552.8,568.9 L552.8,602.8 L548.4,602.8 L548.4,574.8 L541.8,581 L539.4,577.4 L548.8,568.9 Z" fill="#000"/>
<path d="M575.3,568.9 L579.7,568.9 L579.7,602.8 L575.3,602.8 L575.3,574.8 L568.7,581 L566.3,577.4 L575.7,568.9 Z" fill="#000"/>
<text x="592.3" y="603.8" font-size="50.5" text-anchor="start" stroke="#fff" stroke-width="0.35">0</text>
<line x1="619.5" y1="586.6" x2="655" y2="586.6" stroke="#000" stroke-width="3.4"/>
<path d="M692.3,586.6 L654.3,576.1 L654.3,597.1 Z" fill="#000"/>
<text x="70.5" y="690" font-size="50.5" text-anchor="start" stroke="#fff" stroke-width="0.35">Ø56</text>
<line x1="99" y1="705.6" x2="148" y2="705.6" stroke="#000" stroke-width="3.4"/>
<path d="M184.5,705.6 L146.5,695.1 L146.5,716.1 Z" fill="#000"/>
<line x1="185.7" y1="696" x2="185.7" y2="739" stroke="#000" stroke-width="2.8"/>
<line x1="263.7" y1="697" x2="263.7" y2="737" stroke="#000" stroke-width="2.8"/>
<path d="M265.2,709.8 L303.2,699.3 L303.2,720.3 Z" fill="#000"/>
<line x1="302" y1="709.8" x2="319" y2="709.8" stroke="#000" stroke-width="3.4"/>
<line x1="337.8" y1="664.5" x2="337.8" y2="702" stroke="#000" stroke-width="3.4"/>
<path d="M337.8,738.5 L327.3,700.5 L348.3,700.5 Z" fill="#000"/>
<line x1="337.8" y1="736" x2="337.8" y2="748" stroke="#000" stroke-width="3.4"/>
<line x1="264" y1="736.7" x2="353" y2="736.7" stroke="#000" stroke-width="3.4"/>
<text x="288" y="790" font-size="50.5" text-anchor="start" stroke="#fff" stroke-width="0.35">0-55</text>
<line x1="337.8" y1="796" x2="337.8" y2="815" stroke="#000" stroke-width="3.4"/>
<path d="M337.8,814.5 L326.9,847.5 L348.7,847.5 Z" fill="#000"/>
<line x1="337.8" y1="846" x2="337.8" y2="859" stroke="#000" stroke-width="4"/>
<line x1="266" y1="813" x2="352.5" y2="813" stroke="#000" stroke-width="3.4"/>
<line x1="354.2" y1="687.4" x2="371" y2="687.4" stroke="#000" stroke-width="3.4"/>
<path d="M408.2,687.4 L370.2,676.9 L370.2,697.9 Z" fill="#000"/>
<path d="M507.6,687.4 L545.6,676.9 L545.6,697.9 Z" fill="#000"/>
<line x1="544" y1="687.4" x2="604.2" y2="687.4" stroke="#000" stroke-width="3.4"/>
<text x="508" y="674.5" font-size="50.5" text-anchor="start" stroke="#fff" stroke-width="0.35">Ø65</text>
<text x="114" y="780.5" font-size="50.5" text-anchor="start" stroke="#fff" stroke-width="0.35">G</text>
<text x="150.2" y="765.9" font-size="27.5" text-anchor="start" stroke="#fff" stroke-width="0.25">3</text>
<text x="172.1" y="779.5" font-size="27.5" text-anchor="start" stroke="#fff" stroke-width="0.25">4</text>
<line x1="159.1" y1="781.4" x2="180.4" y2="744.5" stroke="#000" stroke-width="2.3"/>
<line x1="118" y1="789.4" x2="167" y2="789.4" stroke="#000" stroke-width="3.4"/>
<path d="M203.5,789.4 L165.5,778.9 L165.5,799.9 Z" fill="#000"/>
<text x="514" y="781.5" font-size="50.5" text-anchor="start" stroke="#fff" stroke-width="0.35">G</text>
<text x="550.2" y="766.9" font-size="27.5" text-anchor="start" stroke="#fff" stroke-width="0.25">3</text>
<text x="572.1" y="780.5" font-size="27.5" text-anchor="start" stroke="#fff" stroke-width="0.25">4</text>
<line x1="559.1" y1="782.4" x2="580.4" y2="745.5" stroke="#000" stroke-width="2.3"/>
<path d="M482,791.9 L520,781.4 L520,802.4 Z" fill="#000"/>
<line x1="519" y1="791.9" x2="595.4" y2="791.9" stroke="#000" stroke-width="3.4"/>
<text x="901" y="777" font-size="50.5" text-anchor="start" stroke="#fff" stroke-width="0.35">G</text>
<text x="937.2" y="762.4" font-size="27.5" text-anchor="start" stroke="#fff" stroke-width="0.25">3</text>
<text x="959.1" y="776" font-size="27.5" text-anchor="start" stroke="#fff" stroke-width="0.25">4</text>
<line x1="946.1" y1="777.9" x2="967.4" y2="741" stroke="#000" stroke-width="2.3"/>
<path d="M867.2,789.4 L905.2,778.9 L905.2,799.9 Z" fill="#000"/>
<line x1="904" y1="789.4" x2="976.2" y2="789.4" stroke="#000" stroke-width="3.4"/>
<text x="119" y="877" font-size="50.5" text-anchor="start" stroke="#fff" stroke-width="0.35">G</text>
<text x="159" y="863.4" font-size="27.5" text-anchor="start" stroke="#fff" stroke-width="0.25">1</text>
<text x="180.4" y="876" font-size="27.5" text-anchor="start" stroke="#fff" stroke-width="0.25">2</text>
<line x1="163" y1="878.3" x2="185.3" y2="842" stroke="#000" stroke-width="2.3"/>
<line x1="123" y1="886" x2="172" y2="886" stroke="#000" stroke-width="3.4"/>
<path d="M207.4,885.3 L169.4,874.8 L169.4,895.8 Z" fill="#000"/>
</svg>
</body></html>
